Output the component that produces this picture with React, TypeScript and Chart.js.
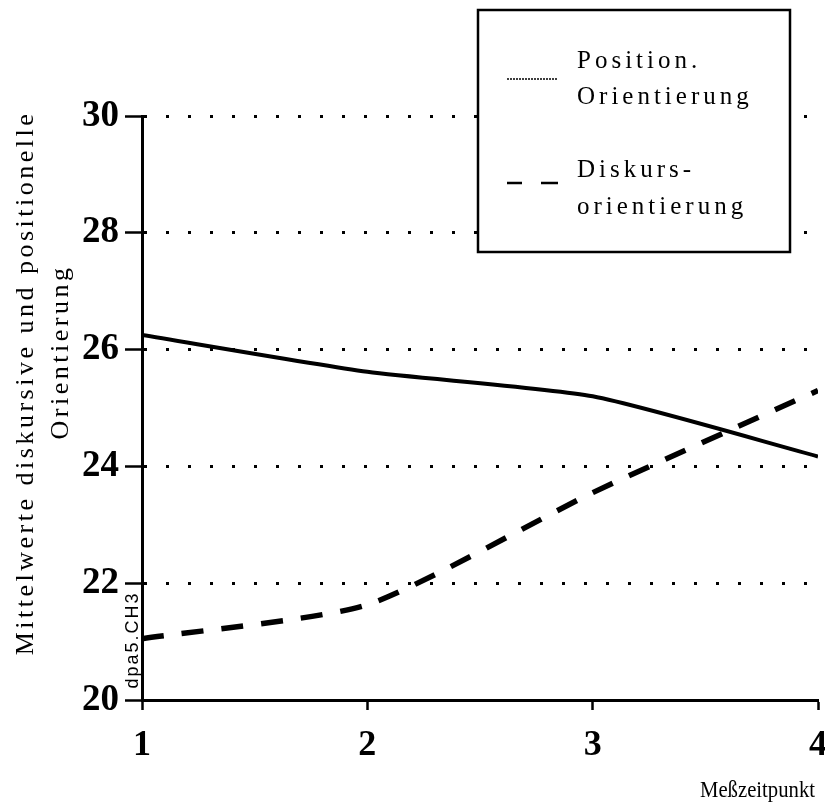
import React, { useEffect, useRef } from "react";
import { Chart, registerables } from "chart.js";

Chart.register(...registerables);

const timePoints = [1, 2, 3, 4];
const positionValues = [26.25, 25.62, 25.2, 24.17];
const diskursValues = [21.05, 21.63, 23.55, 25.3];
const yTicks = [20, 22, 24, 26, 28, 30];

const legendLabels = [
  ["Position.", "Orientierung"],
  ["Diskurs-", "orientierung"],
];
const yTitleLines = ["Mittelwerte diskursive und positionelle", "Orientierung"];
const xTitle = "Meßzeitpunkt";
const codeLabel = "dpa5.CH3";

const SERIF = "'Liberation Serif', 'DejaVu Serif', serif";

const overlayPlugin = {
  id: "overlay",
  afterDraw(chart: any) {
    const ctx = chart.ctx as CanvasRenderingContext2D;
    ctx.save();
    ctx.fillStyle = "#000";
    ctx.strokeStyle = "#000";

    // y axis title (two rotated lines)
    ctx.font = `26px ${SERIF}`;
    (ctx as any).letterSpacing = "3.5px";
    ctx.textAlign = "center";
    ctx.textBaseline = "middle";
    const yCenters = [
      [26, 383],
      [61, 352],
    ];
    yTitleLines.forEach((t, i) => {
      ctx.save();
      ctx.translate(yCenters[i][0], yCenters[i][1]);
      ctx.rotate(-Math.PI / 2);
      ctx.fillText(t, 0, 0);
      ctx.restore();
    });

    // x axis title
    (ctx as any).letterSpacing = "0px";
    ctx.font = `23px ${SERIF}`;
    ctx.textAlign = "right";
    ctx.textBaseline = "alphabetic";
    ctx.save();
    ctx.translate(815, 797);
    ctx.scale(0.9, 1);
    ctx.fillText(xTitle, 0, 0);
    ctx.restore();

    // small code label
    ctx.save();
    ctx.font = `18px 'Liberation Sans', Arial, sans-serif`;
    (ctx as any).letterSpacing = "2px";
    ctx.translate(133, 640);
    ctx.rotate(-Math.PI / 2);
    ctx.textAlign = "center";
    ctx.textBaseline = "middle";
    ctx.fillText(codeLabel, 0, 0);
    ctx.restore();

    // legend box
    const bx = 478, by = 10, bw = 312, bh = 242;
    ctx.fillStyle = "#fff";
    ctx.fillRect(bx, by, bw, bh);
    ctx.lineWidth = 2.5;
    ctx.strokeStyle = "#000";
    ctx.strokeRect(bx, by, bw, bh);

    // samples
    ctx.lineWidth = 1.5;
    ctx.setLineDash([2, 1]);
    ctx.beginPath();
    ctx.moveTo(507, 79);
    ctx.lineTo(558, 79);
    ctx.stroke();
    ctx.setLineDash([]);
    ctx.lineWidth = 2.5;
    ctx.beginPath();
    ctx.moveTo(507, 183);
    ctx.lineTo(522, 183);
    ctx.moveTo(541, 183);
    ctx.lineTo(558, 183);
    ctx.stroke();

    ctx.fillStyle = "#000";
    ctx.font = `25px ${SERIF}`;
    (ctx as any).letterSpacing = "4px";
    ctx.textAlign = "left";
    ctx.textBaseline = "alphabetic";
    const baselines = [
      [68, 104],
      [177, 214],
    ];
    legendLabels.forEach((lines, i) => {
      lines.forEach((t, j) => ctx.fillText(t, 577, baselines[i][j]));
    });
    ctx.restore();
  },
};

export default function App() {
  const ref = useRef<HTMLCanvasElement | null>(null);
  useEffect(() => {
    if (!ref.current) return;
    const chart = new Chart(ref.current, {
      type: "line",
      data: {
        datasets: [
          {
            label: legendLabels[0].join(" "),
            data: timePoints.map((x, i) => ({ x, y: positionValues[i] })),
            borderColor: "#000",
            borderWidth: 4,
            pointRadius: 0,
            tension: 0.2,
            fill: false,
          },
          {
            label: legendLabels[1].join(""),
            data: timePoints.map((x, i) => ({ x, y: diskursValues[i] })),
            borderColor: "#000",
            borderWidth: 5.5,
            borderDash: [22, 18],
            pointRadius: 0,
            tension: 0.2,
            fill: false,
          },
        ],
      },
      options: {
        animation: false,
        responsive: true,
        maintainAspectRatio: false,
        layout: { padding: { left: 0, top: 116, right: 7, bottom: 0 } },
        plugins: { legend: { display: false }, tooltip: { enabled: false } },
        scales: {
          x: {
            type: "linear",
            min: 1,
            max: 4,
            afterFit: (s: any) => {
              s.height = 107;
              s.paddingLeft = 0;
              s.paddingRight = 0;
            },
            afterBuildTicks: (s: any) => {
              s.ticks = timePoints.map((v) => ({ value: v }));
            },
            grid: {
              drawOnChartArea: false,
              drawTicks: true,
              tickLength: 10,
              tickColor: "#000",
              tickWidth: 2.5,
            },
            border: { display: true, color: "#000", width: 3 },
            ticks: {
              color: "#000",
              padding: 14,
              font: { family: SERIF, size: 36, weight: "bold" },
              callback: (v: any) => String(v),
            },
          },
          y: {
            type: "linear",
            min: 20,
            max: 30,
            afterFit: (s: any) => {
              s.width = 142;
            },
            afterBuildTicks: (s: any) => {
              s.ticks = yTicks.map((v) => ({ value: v }));
            },
            grid: {
              drawOnChartArea: true,
              drawTicks: true,
              tickLength: 17,
              color: "#000",
              lineWidth: 3,
              tickColor: "#000",
              tickWidth: 2.5,
              tickBorderDash: [],
            },
            border: { display: true, color: "#000", width: 3, dash: [3, 19] },
            ticks: {
              color: "#000",
              padding: 6,
              font: { family: SERIF, size: 37, weight: "bold" },
              callback: (v: any) => String(v),
            },
          },
        },
      },
      plugins: [overlayPlugin],
    } as any);
    return () => chart.destroy();
  }, []);
  return (
    <div style={{ position: "absolute", left: 0, top: 0, width: 825, height: 807, background: "#fff" }}>
      <canvas ref={ref} />
    </div>
  );
}
